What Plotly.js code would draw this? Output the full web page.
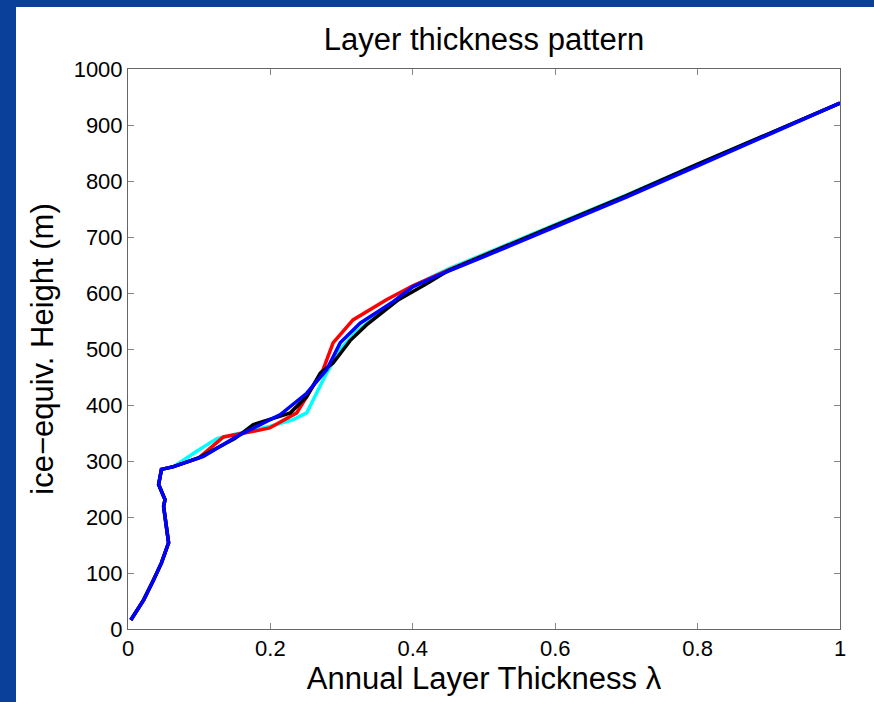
<!DOCTYPE html>
<html>
<head>
<meta charset="utf-8">
<script src="https://cdn.plot.ly/plotly-3.0.1.min.js"></script>
<style>
  html, body { margin: 0; padding: 0; width: 874px; height: 702px; background: #0a3f9a; overflow: hidden; }
  #chart { position: absolute; left: 16px; top: 7px; width: 858px; height: 695px; background: #ffffff; }
</style>
</head>
<body>
<div id="chart"></div>
<script>
// Shared lower section (all series overlap here)
const lowX = [0.004, 0.022, 0.036, 0.047, 0.057, 0.052, 0.050, 0.052, 0.043, 0.047, 0.064];
const lowY = [16, 52, 88, 118, 154, 195, 219, 231, 258, 285, 290];

// Series-specific upper sections
const cyanUpX = [0.097, 0.125, 0.148, 0.200, 0.232, 0.251, 0.279, 0.298, 0.320, 0.370, 0.400, 0.450, 0.600, 0.700, 0.800, 0.900, 1.000];
const cyanUpY = [318, 340, 347, 362, 374, 386, 457, 499, 530, 582, 612, 643, 722, 775, 830, 885, 939];

const redUpX = [0.100, 0.134, 0.176, 0.199, 0.237, 0.260, 0.274, 0.288, 0.316, 0.363, 0.400, 0.450, 0.600, 0.700, 0.800, 0.900, 1.000];
const redUpY = [306, 343, 353, 359, 386, 433, 463, 511, 552, 588, 613, 641, 720, 773, 829, 884, 939];

const blackUpX = [0.100, 0.150, 0.176, 0.228, 0.251, 0.270, 0.288, 0.312, 0.335, 0.380, 0.420, 0.450, 0.600, 0.700, 0.800, 0.900, 1.000];
const blackUpY = [306, 340, 365, 386, 415, 457, 475, 515, 543, 588, 617, 640, 721, 774, 830, 885, 939];

const blueUpX = [0.106, 0.153, 0.214, 0.251, 0.279, 0.298, 0.326, 0.373, 0.400, 0.438, 0.500, 0.600, 0.700, 0.800, 0.900, 1.000];
const blueUpY = [308, 344, 383, 421, 463, 511, 546, 585, 611, 633, 665, 718, 771, 827, 883, 939];

const seriesNames = ['cyan', 'red', 'black', 'blue'];
const seriesColors = ['#00ffff', '#ff0000', '#000000', '#0000ff'];
const seriesUpX = [cyanUpX, redUpX, blackUpX, blueUpX];
const seriesUpY = [cyanUpY, redUpY, blackUpY, blueUpY];

const xTickVals = [0, 0.2, 0.4, 0.6, 0.8, 1];
const xTickText = ['0', '0.2', '0.4', '0.6', '0.8', '1'];
const yTickVals = [0, 100, 200, 300, 400, 500, 600, 700, 800, 900, 1000];
const yTickText = yTickVals.map(String);

const FONT = 'Liberation Sans, Arial, Helvetica, sans-serif';

const traces = seriesNames.map((n, i) => ({
  type: 'scatter',
  mode: 'lines',
  name: n,
  x: lowX.concat(seriesUpX[i]),
  y: lowY.concat(seriesUpY[i]),
  line: { color: seriesColors[i], width: 3.5 },
  hoverinfo: 'skip'
}));

const axisCommon = {
  showline: true,
  mirror: 'ticks',
  linecolor: '#666666',
  linewidth: 1,
  ticks: 'inside',
  ticklen: 6,
  tickcolor: '#888888',
  showgrid: false,
  zeroline: false,
  tickfont: { family: FONT, size: 22, color: '#000000' }
};

const layout = {
  width: 858,
  height: 695,
  paper_bgcolor: '#ffffff',
  plot_bgcolor: '#ffffff',
  showlegend: false,
  margin: { l: 112, r: 34, t: 62, b: 73 },
  title: {
    text: 'Layer thickness pattern',
    font: { family: FONT, size: 31, color: '#000000' },
    x: 0.5, xref: 'paper', xanchor: 'center',
    y: 1 - 32 / 695, yref: 'container', yanchor: 'middle'
  },
  xaxis: Object.assign({}, axisCommon, {
    range: [0, 1],
    tickmode: 'array', tickvals: xTickVals, ticktext: xTickText,
    title: { text: 'Annual Layer Thickness λ', font: { family: FONT, size: 31, color: '#000000' }, standoff: 2 }
  }),
  yaxis: Object.assign({}, axisCommon, {
    range: [0, 1000],
    tickmode: 'array', tickvals: yTickVals, ticktext: yTickText,
    title: { text: 'ice−equiv. Height (m)', font: { family: FONT, size: 31, color: '#000000' }, standoff: 10 }
  })
};

Plotly.newPlot('chart', traces, layout, { staticPlot: true, displayModeBar: false });
</script>
</body>
</html>
